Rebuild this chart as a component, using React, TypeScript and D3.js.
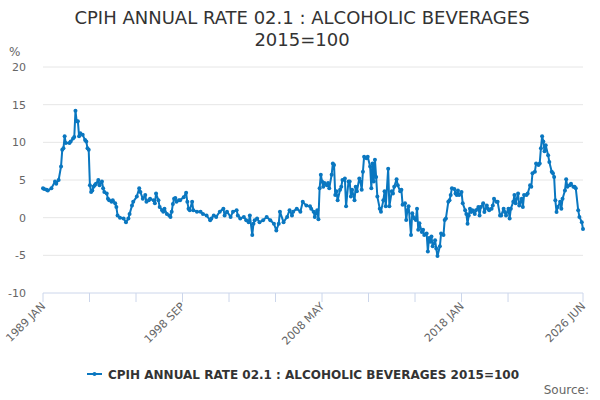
import React, { useRef, useEffect } from "react";
import * as d3 from "d3";

// month offsets from 1989 JAN, and the annual rate read for that month
const monthIdx = [
  0, 1, 3, 4, 7, 10, 11, 13, 15, 16, 17, 18, 19, 22, 23, 25, 26, 27, 28, 29, 30, 31, 33, 35, 36, 37, 38, 39, 40, 41,
  42, 43, 44, 46, 47, 49, 50, 51, 53, 54, 55, 57, 58, 60, 61, 62, 64, 67, 69, 71, 72, 74, 75, 78, 80, 81, 83, 85, 86, 88,
  89, 92, 93, 94, 96, 97, 99, 100, 101, 103, 105, 106, 107, 108, 109, 110, 111, 113, 114, 117, 119, 120, 121, 122, 124, 125, 128, 131, 133, 136,
  139, 140, 142, 144, 147, 150, 151, 153, 156, 158, 161, 162, 164, 167, 169, 171, 172, 174, 175, 176, 178, 180, 183, 186, 189, 192, 194, 196, 197, 200,
  203, 205, 207, 208, 211, 214, 216, 219, 222, 223, 225, 226, 227, 228, 229, 230, 231, 232, 233, 234, 236, 237, 238, 240, 241, 242, 243, 244, 245, 247,
  248, 249, 251, 252, 254, 255, 256, 257, 259, 260, 261, 263, 264, 265, 266, 267, 269, 270, 272, 273, 274, 275, 276, 277, 278, 280, 281, 283, 284, 285,
  287, 288, 290, 291, 292, 294, 295, 297, 298, 299, 301, 302, 303, 304, 306, 307, 309, 310, 311, 312, 313, 315, 316, 317, 319, 320, 321, 322, 323, 324,
  326, 327, 328, 330, 331, 333, 334, 335, 337, 338, 339, 340, 342, 343, 344, 345, 346, 348, 349, 351, 352, 353, 354, 355, 356, 357, 359, 360, 362, 363,
  364, 366, 367, 369, 370, 371, 373, 374, 375, 377, 378, 380, 381, 383, 384, 385, 387, 388, 389, 391, 392, 393, 395, 396, 398, 399, 400, 402, 403, 405,
  406, 407, 409, 410, 412, 413, 414, 415, 416, 417, 418, 420, 421, 423, 424, 425, 426, 427, 428, 430, 431, 432, 434, 435, 436, 438, 439, 441, 442, 443,
  445, 446, 448, 449,
];
const rate = [
  3.9, 3.8, 3.7, 3.6, 3.9, 4.8, 4.5, 5.0, 6.8, 9.0, 9.2, 10.8, 9.9, 9.9, 10.1, 10.5, 10.7, 14.2, 12.8, 12.8, 10.8, 11.2, 11.0, 10.3, 10.1, 9.2, 9.0, 4.3, 3.4, 3.6,
  4.1, 4.3, 4.5, 5.0, 4.3, 4.8, 3.9, 3.4, 3.2, 2.5, 2.3, 2.1, 2.3, 1.9, 1.4, 0.3, 0.0, -0.1, -0.6, -0.1, 0.5, 1.6, 2.1, 2.8, 3.9, 3.4, 2.5, 3.0, 2.1, 2.3,
  2.5, 2.3, 1.9, 3.2, 2.3, 1.4, 1.0, 0.8, 1.2, 0.5, 0.3, 0.1, 0.8, 1.8, 2.5, 2.6, 2.1, 2.3, 2.3, 2.7, 3.3, 2.1, 1.2, 1.0, 2.1, 1.0, 0.8, 0.8, 0.5, 0.3,
  -0.35, -0.1, 0.3, 0.1, 0.8, 1.2, 0.3, 0.8, 0.1, 0.8, 1.0, 0.3, -0.1, 0.1, -0.35, -0.6, 0.3, -2.3, -0.8, -0.35, -0.1, -0.6, -0.35, 0.1, -0.35, -0.8, -1.7, -0.8, 0.8, -0.6,
  0.1, 1.0, 0.3, 0.8, 1.2, 0.8, 2.1, 1.6, 1.5, 1.2, 0.8, 0.1, 0.6, 1.0, -0.2, 3.9, 5.7, 4.8, 4.1, 4.6, 4.3, 4.6, 3.9, 5.7, 7.2, 7.0, 3.0, 3.5, 2.3, 3.7,
  4.1, 5.0, 5.2, 1.5, 4.8, 4.8, 2.8, 3.7, 2.3, 4.1, 3.5, 5.2, 4.8, 3.7, 6.1, 8.1, 7.9, 8.1, 6.8, 3.9, 7.2, 4.8, 7.7, 5.4, 2.8, 1.2, 0.8, 2.3, 3.5, 1.5,
  6.5, 1.5, 3.5, 3.2, 4.1, 5.1, 4.3, 3.5, 3.7, 1.7, 1.9, -0.3, 1.0, 1.5, -2.3, 0.6, -0.1, -0.3, 1.2, -1.6, -0.75, -1.9, -1.6, -2.3, -2.1, -4.5, -2.7, -3.2, -2.5, -3.8,
  -3.0, -4.1, -5.1, -3.8, -2.1, -2.3, -0.3, -0.1, 2.1, 2.3, 3.0, 3.9, 3.8, 3.2, 3.0, 3.6, 3.0, 3.4, 1.9, 1.0, 0.5, -0.8, 0.3, 1.2, 0.75, 1.0, 0.5, 1.0, 1.4, 0.3,
  1.4, 1.9, 0.75, 1.6, 1.2, 1.0, 1.2, 1.6, 2.5, 2.1, 2.1, 0.3, 0.3, 1.2, 0.75, 0.3, 1.2, -0.1, 1.2, 2.1, 3.0, 1.9, 3.2, 1.6, 2.5, 1.4, 3.0, 3.0, 3.2, 4.3,
  4.1, 5.9, 6.1, 7.2, 7.0, 7.2, 9.2, 10.8, 10.1, 8.8, 9.6, 8.3, 7.4, 6.1, 5.9, 5.4, 2.3, 0.75, 1.4, 2.1, 1.2, 2.5, 3.6, 5.1, 4.1, 4.3, 4.5, 4.1, 4.1, 3.9,
  1.0, 0.1, -0.6, -1.5,
];

const yTicks = [-10, -5, 0, 5, 10, 15, 20];
const xLabels = ["1989 JAN", "1998 SEP", "2008 MAY", "2018 JAN", "2026 JUN"];
const xLabelIdx = [0, 116, 232, 348, 449];
const lastIdx = 449;
const seriesName = "CPIH ANNUAL RATE 02.1 : ALCOHOLIC BEVERAGES 2015=100";
const lineColor = "#0a77c0";

const App: React.FC = () => {
  const svgRef = useRef<SVGSVGElement>(null);

  useEffect(() => {
    const svgEl = svgRef.current;
    if (!svgEl) return;
    const svg = d3.select(svgEl);
    svg.selectAll("*").remove();

    const font = "'DejaVu Sans', sans-serif";
    const left = 43;
    const right = 583;
    const top = 67;
    const bottom = 293;

    const x = d3.scaleLinear().domain([0, lastIdx]).range([left, right]);
    const y = d3.scaleLinear().domain([-10, 20]).range([bottom, top]);

    // title
    const title = svg.append("text")
      .attr("x", 302)
      .attr("text-anchor", "middle")
      .attr("font-family", font)
      .attr("font-size", 18)
      .attr("fill", "#333");
    title.append("tspan").attr("x", 302).attr("y", 24).text("CPIH ANNUAL RATE 02.1 : ALCOHOLIC BEVERAGES");
    title.append("tspan").attr("x", 302).attr("y", 46).text("2015=100");

    // gridlines
    svg.append("g")
      .selectAll("line")
      .data(yTicks.filter((t) => t !== -10))
      .join("line")
      .attr("x1", left)
      .attr("x2", right)
      .attr("y1", (d) => y(d))
      .attr("y2", (d) => y(d))
      .attr("stroke", "#e6e6e6")
      .attr("stroke-width", 1);

    // y labels
    svg.append("g")
      .selectAll("text")
      .data(yTicks)
      .join("text")
      .attr("x", 26)
      .attr("y", (d) => y(d) + 4)
      .attr("text-anchor", "end")
      .attr("font-family", font)
      .attr("font-size", 11)
      .attr("fill", "#666")
      .text((d) => d);

    svg.append("text")
      .attr("x", 9)
      .attr("y", 56)
      .attr("font-family", font)
      .attr("font-size", 12)
      .attr("fill", "#666")
      .text("%");

    // x axis
    const tickIdx = d3.range(0, 11).map((k) => (k * 116) / 3).concat([lastIdx]);
    const xAxis = svg.append("g").attr("transform", `translate(0,${bottom})`);
    xAxis.append("line")
      .attr("x1", left)
      .attr("x2", right)
      .attr("stroke", "#ccd6eb");
    xAxis.selectAll("line.tick")
      .data(tickIdx)
      .join("line")
      .attr("class", "tick")
      .attr("x1", (d) => x(d))
      .attr("x2", (d) => x(d))
      .attr("y1", 0)
      .attr("y2", 9)
      .attr("stroke", "#ccd6eb");
    xAxis.selectAll("text")
      .data(xLabelIdx)
      .join("text")
      .attr("transform", (d) => `translate(${x(d) + 3},${14}) rotate(-45)`)
      .attr("text-anchor", "end")
      .attr("font-family", font)
      .attr("font-size", 11)
      .attr("fill", "#666")
      .text((_, i) => xLabels[i]);

    // series
    const points = monthIdx.map((m, i) => [m, rate[i]] as [number, number]);
    const line = d3.line<[number, number]>()
      .x((d) => x(d[0]))
      .y((d) => y(d[1]));
    svg.append("path")
      .datum(points)
      .attr("d", line)
      .attr("fill", "none")
      .attr("stroke", lineColor)
      .attr("stroke-width", 2)
      .attr("stroke-linejoin", "round");
    svg.append("g")
      .selectAll("circle")
      .data(points)
      .join("circle")
      .attr("cx", (d) => x(d[0]))
      .attr("cy", (d) => y(d[1]))
      .attr("r", 2)
      .attr("fill", lineColor);

    // legend
    const legend = svg.append("g").attr("transform", "translate(87,374)");
    legend.append("line").attr("x1", 0).attr("x2", 15).attr("stroke", lineColor).attr("stroke-width", 2);
    legend.append("circle").attr("cx", 7.5).attr("r", 2).attr("fill", lineColor);
    legend.append("text")
      .attr("x", 21)
      .attr("y", 4.5)
      .attr("font-family", font)
      .attr("font-size", 12)
      .attr("font-weight", "bold")
      .attr("fill", "#333")
      .text(seriesName);

    svg.append("text")
      .attr("x", 589)
      .attr("y", 394)
      .attr("text-anchor", "end")
      .attr("font-family", font)
      .attr("font-size", 12)
      .attr("fill", "#666")
      .text("Source:");
  }, []);

  return (
    <div style={{ position: "absolute", left: 0, top: 0 }}>
      <svg ref={svgRef} width={600} height={400} style={{ display: "block", background: "#fff" }} />
    </div>
  );
};

export default App;
